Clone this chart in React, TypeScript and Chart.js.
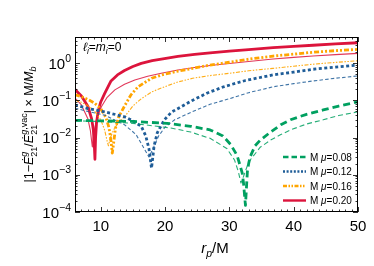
import React, { useEffect, useRef } from "react";
import { Chart, registerables } from "chart.js";

Chart.register(...registerables);

const FONT = '"Liberation Sans", Arial, sans-serif';

// ---- axis ranges / ticks ----
const X_MIN = 6;
const X_MAX = 50;
const Y_MIN = 1e-4;
const Y_MAX = 5;
const X_TICKS = [10, 20, 30, 40, 50];
const Y_TICK_EXPONENTS = [-4, -3, -2, -1, 0];
const MU_LABELS = ["0.08", "0.12", "0.16", "0.20"];

// ---- μ = 0.20 (red, solid) ----
const rRedThick = [6, 7, 8, 8.6, 8.85, 9.0, 9.1, 9.2, 9.35, 9.6, 10, 10.6, 11.6, 12.6, 13.7, 15, 16.3, 18, 19.9, 22, 24.6, 27, 30, 33, 36.8, 40, 43, 46.5, 50];
const redThick = [0.195, 0.13, 0.069, 0.031, 0.016, 0.0065, 0.0026, 0.01, 0.025, 0.05, 0.09, 0.15, 0.33, 0.48, 0.63, 0.81, 0.98, 1.16, 1.32, 1.5, 1.7, 1.88, 2.08, 2.3, 2.58, 2.8, 3.0, 3.25, 3.5];
const rRedThin = [6, 7, 8, 8.4, 8.55, 8.7, 8.85, 9.0, 9.4, 10.1, 11, 12.2, 13.7, 15.3, 17.3, 19.4, 22, 24.3, 27, 30, 33, 36.8, 40, 43, 46.5, 50];
const redThin = [0.115, 0.075, 0.032, 0.015, 0.009, 0.0056, 0.01, 0.015, 0.034, 0.067, 0.12, 0.19, 0.27, 0.35, 0.44, 0.53, 0.65, 0.75, 0.86, 0.97, 1.1, 1.28, 1.42, 1.55, 1.68, 1.82];

// ---- μ = 0.16 (orange, dash-dot-dot) ----
const rOrangeThick = [6, 7, 8, 9, 10, 10.8, 11.3, 11.6, 11.8, 12.0, 12.3, 12.8, 13.7, 14.7, 15.8, 17.9, 19.7, 21.5, 24.3, 27, 30, 33, 36.8, 40, 43, 46.5, 50];
const orangeThick = [0.14, 0.125, 0.105, 0.085, 0.06, 0.035, 0.018, 0.008, 0.0038, 0.007, 0.018, 0.036, 0.07, 0.14, 0.23, 0.39, 0.49, 0.58, 0.72, 0.88, 1.05, 1.27, 1.54, 1.73, 1.95, 2.15, 2.33];
const rOrangeThin = [6, 7, 8, 9, 10, 10.6, 11.0, 11.2, 11.5, 12, 12.8, 13.7, 15, 16.3, 18, 19.9, 22, 24.3, 27, 30, 33, 36.8, 40, 43, 46.5, 50];
const orangeThin = [0.1, 0.088, 0.072, 0.052, 0.03, 0.016, 0.008, 0.006, 0.01, 0.016, 0.026, 0.036, 0.07, 0.11, 0.17, 0.23, 0.31, 0.39, 0.46, 0.53, 0.62, 0.72, 0.82, 0.93, 1.04, 1.15];

// ---- μ = 0.12 (blue, dotted) ----
const rBlueThick = [6, 8, 10.6, 13.7, 15, 16.3, 17, 17.5, 17.9, 18.3, 18.8, 19.9, 21, 22.5, 24.3, 26.5, 29.1, 32.5, 36.8, 40, 43, 46.5, 50];
const blueThick = [0.075, 0.06, 0.049, 0.036, 0.028, 0.02, 0.011, 0.005, 0.0015, 0.006, 0.0135, 0.03, 0.048, 0.067, 0.1, 0.155, 0.23, 0.34, 0.48, 0.57, 0.68, 0.78, 0.88];
const rBlueThin = [6, 8, 10.6, 13.7, 15.5, 16.5, 17.5, 18, 19, 20, 21.5, 24.3, 27, 30, 33, 36.8, 40, 43, 46.5, 50];
const blueThin = [0.062, 0.05, 0.04, 0.022, 0.012, 0.006, 0.003, 0.0045, 0.011, 0.019, 0.03, 0.05, 0.078, 0.11, 0.16, 0.23, 0.28, 0.33, 0.39, 0.45];

// ---- μ = 0.08 (green, dashed) ----
const rGreenThick = [6, 10, 15, 20.3, 24, 27, 29, 30.2, 31.2, 31.7, 32.0, 32.2, 32.5, 32.8, 33, 33.25, 34, 34.8, 36.4, 38, 39.5, 42, 44.6, 47, 50];
const greenThick = [0.029, 0.028, 0.027, 0.024, 0.02, 0.016, 0.011, 0.0065, 0.0033, 0.0017, 0.0011, 0.0006, 0.00015, 0.0012, 0.002, 0.0031, 0.006, 0.0085, 0.014, 0.022, 0.03, 0.042, 0.055, 0.07, 0.091];
const rGreenThin = [6, 10, 15, 20.9, 24, 27, 29.6, 30.8, 31.4, 31.8, 32.2, 33, 34.8, 36.4, 38, 39.5, 42, 44.6, 47, 50];
const greenThin = [0.028, 0.027, 0.024, 0.018, 0.014, 0.0095, 0.0051, 0.0025, 0.0012, 0.0006, 0.0009, 0.0022, 0.0055, 0.0085, 0.012, 0.016, 0.023, 0.03, 0.039, 0.049];

type Pt = { x: number; y: number };
const toXY = (rs: number[], vs: number[]): Pt[] => rs.map((r, i) => ({ x: r, y: vs[i] }));

const SERIES = [
  { mu: MU_LABELS[0], color: "#00a060", thin: "rgba(0,160,96,0.85)", thickR: rGreenThick, thickV: greenThick, thinR: rGreenThin, thinV: greenThin, thickDash: [7, 4], thinDash: [5, 3], legendDash: [5.5, 3] },
  { mu: MU_LABELS[1], color: "#1f5d98", thin: "rgba(31,93,152,0.85)", thickR: rBlueThick, thickV: blueThick, thinR: rBlueThin, thinV: blueThin, thickDash: [3, 2.5], thinDash: [3.5, 2.2], legendDash: [2, 1.6] },
  { mu: MU_LABELS[2], color: "#ffa500", thin: "rgba(255,165,0,0.9)", thickR: rOrangeThick, thickV: orangeThick, thinR: rOrangeThin, thinV: orangeThin, thickDash: [5, 2, 2, 2, 2, 2], thinDash: [4, 1.5, 1.5, 1.5, 1.5, 1.5], legendDash: [4, 1.5, 1.5, 1.5, 1.5, 1.5] },
  { mu: MU_LABELS[3], color: "#dc143c", thin: "rgba(220,20,60,0.85)", thickR: rRedThick, thickV: redThick, thinR: rRedThin, thinV: redThin, thickDash: [] as number[], thinDash: [] as number[], legendDash: [] as number[] },
];

type Part = { t: string; size: number; italic?: boolean; dy?: number };
type Stack = { sup: Part[]; sub: Part[]; supDy: number; subDy: number };
type Item = Part | Stack;

function font(p: Part) {
  return `${p.italic ? "italic " : ""}${p.size}px ${FONT}`;
}
function partsWidth(ctx: CanvasRenderingContext2D, parts: Part[]) {
  let w = 0;
  for (const p of parts) {
    ctx.font = font(p);
    w += ctx.measureText(p.t).width;
  }
  return w;
}
function itemWidth(ctx: CanvasRenderingContext2D, it: Item) {
  if ("sup" in it) return Math.max(partsWidth(ctx, it.sup), partsWidth(ctx, it.sub));
  ctx.font = font(it);
  return ctx.measureText(it.t).width;
}
function drawParts(ctx: CanvasRenderingContext2D, parts: Part[], x: number, y: number) {
  let cx = x;
  for (const p of parts) {
    ctx.font = font(p);
    ctx.fillText(p.t, cx, y + (p.dy || 0));
    cx += ctx.measureText(p.t).width;
  }
  return cx;
}
function drawRich(ctx: CanvasRenderingContext2D, items: Item[], x: number, y: number, align: "left" | "center" | "right") {
  const total = items.reduce((s, it) => s + itemWidth(ctx, it), 0);
  let cx = align === "left" ? x : align === "center" ? x - total / 2 : x - total;
  ctx.textAlign = "left";
  ctx.textBaseline = "alphabetic";
  for (const it of items) {
    const w = itemWidth(ctx, it);
    if ("sup" in it) {
      drawParts(ctx, it.sup, cx, y + it.supDy);
      drawParts(ctx, it.sub, cx, y + it.subDy);
    } else {
      drawParts(ctx, [it], cx, y);
    }
    cx += w;
  }
}

const decorPlugin = {
  id: "decor",
  afterDatasetsDraw(chart: any) {
    const ctx: CanvasRenderingContext2D = chart.ctx;
    const { left, right, top, bottom } = chart.chartArea;
    const xs = chart.scales.x;
    const ys = chart.scales.y;
    ctx.save();
    ctx.fillStyle = "#000";
    ctx.strokeStyle = "#000";
    ctx.setLineDash([]);

    // frame
    ctx.lineWidth = 1;
    ctx.strokeRect(left + 0.5, top + 0.5, right - left - 1, bottom - top - 1);

    // x ticks (inward, bottom and top)
    ctx.lineWidth = 0.8;
    ctx.beginPath();
    for (let r = Math.ceil(X_MIN); r <= X_MAX; r++) {
      const px = Math.round(xs.getPixelForValue(r)) + 0.5;
      const len = X_TICKS.includes(r) ? 5 : 2.5;
      ctx.moveTo(px, bottom);
      ctx.lineTo(px, bottom - len);
      ctx.moveTo(px, top);
      ctx.lineTo(px, top + len);
    }
    // y ticks (inward, left and right)
    for (const e of Y_TICK_EXPONENTS) {
      for (let k = 1; k <= 9; k++) {
        const v = k * Math.pow(10, e);
        if (v < Y_MIN || v > Y_MAX) continue;
        const py = Math.round(ys.getPixelForValue(v)) + 0.5;
        const len = k === 1 ? 5 : 2.5;
        ctx.moveTo(left, py);
        ctx.lineTo(left + len, py);
        ctx.moveTo(right, py);
        ctx.lineTo(right - len, py);
      }
    }
    ctx.stroke();

    // x tick labels
    ctx.font = `15px ${FONT}`;
    ctx.textAlign = "center";
    ctx.textBaseline = "alphabetic";
    for (const t of X_TICKS) {
      ctx.fillText(String(t), xs.getPixelForValue(t), 231);
    }

    // y tick labels
    for (const e of Y_TICK_EXPONENTS) {
      const py = ys.getPixelForValue(Math.pow(10, e));
      const expStr = e < 0 ? "\u2212" + String(-e) : String(e);
      drawRich(
        ctx,
        [
          { t: "10", size: 15 },
          { t: expStr, size: 10.5, dy: -7 },
        ],
        71,
        py + 5.5,
        "right"
      );
    }

    // x axis title
    drawRich(
      ctx,
      [
        { t: "r", size: 15, italic: true },
        { t: "p", size: 10.5, italic: true, dy: 3.5 },
        { t: "/M", size: 15 },
      ],
      215,
      253,
      "center"
    );

    // y axis title (rotated)
    ctx.save();
    ctx.translate(33, (top + bottom) / 2);
    ctx.rotate(-Math.PI / 2);
    drawRich(
      ctx,
      [
        { t: "|1\u2212", size: 12.5 },
        { t: "\u0116", size: 12.5, italic: true },
        { sup: [{ t: "g", size: 9, italic: true }], sub: [{ t: "21", size: 9 }], supDy: -6.5, subDy: 3.5 },
        { t: "/", size: 12.5 },
        { t: "\u0116", size: 12.5, italic: true },
        { sup: [{ t: "g", size: 9, italic: true }, { t: ",vac", size: 9 }], sub: [{ t: "21", size: 9 }], supDy: -6.5, subDy: 3.5 },
        { t: "| \u00d7 M/", size: 12.5 },
        { t: "M", size: 12.5, italic: true },
        { t: "b", size: 9, italic: true, dy: 3 },
      ],
      0,
      0,
      "center"
    );
    ctx.restore();

    // annotation
    drawRich(
      ctx,
      [
        { t: "\u2113", size: 12, italic: true },
        { t: "i", size: 8.5, italic: true, dy: 2.5 },
        { t: "=", size: 12 },
        { t: "m", size: 12, italic: true },
        { t: "i", size: 8.5, italic: true, dy: 2.5 },
        { t: "=0", size: 12 },
      ],
      83,
      51,
      "left"
    );

    // legend
    const rowY = [157, 171.5, 186, 200.5];
    SERIES.forEach((s, i) => {
      const y = rowY[i];
      ctx.beginPath();
      ctx.strokeStyle = s.color;
      ctx.lineWidth = 2.4;
      ctx.setLineDash(s.legendDash);
      ctx.moveTo(283, y);
      ctx.lineTo(306, y);
      ctx.stroke();
      ctx.setLineDash([]);
      ctx.fillStyle = "#000";
      drawRich(
        ctx,
        [
          { t: "M ", size: 10 },
          { t: "\u03bc", size: 10, italic: true },
          { t: "=" + s.mu, size: 10 },
        ],
        310,
        y + 3.5,
        "left"
      );
    });

    ctx.restore();
  },
};

export default function App() {
  const ref = useRef<HTMLCanvasElement | null>(null);
  useEffect(() => {
    if (!ref.current) return;
    const datasets: any[] = [];
    SERIES.forEach((s) => {
      datasets.push({
        label: "M μ=" + s.mu,
        data: toXY(s.thickR, s.thickV),
        borderColor: s.color,
        borderWidth: 2.8,
        borderDash: s.thickDash,
        borderJoinStyle: "round",
        pointRadius: 0,
        tension: 0,
        fill: false,
      });
      datasets.push({
        label: "M μ=" + s.mu + " (thin)",
        data: toXY(s.thinR, s.thinV),
        borderColor: s.thin,
        borderWidth: 1.1,
        borderDash: s.thinDash,
        borderJoinStyle: "round",
        pointRadius: 0,
        tension: 0,
        fill: false,
      });
    });
    const chart = new Chart(ref.current, {
      type: "line",
      data: { datasets },
      options: {
        animation: false,
        responsive: false,
        maintainAspectRatio: false,
        devicePixelRatio: 1,
        layout: { padding: { left: 75, right: 16, top: 37, bottom: 54 } },
        plugins: { legend: { display: false }, tooltip: { enabled: false } },
        scales: {
          x: { type: "linear", min: X_MIN, max: X_MAX, display: false },
          y: { type: "logarithmic", min: Y_MIN, max: Y_MAX, display: false },
        },
      },
      plugins: [decorPlugin],
    } as any);
    return () => chart.destroy();
  }, []);
  return (
    <div style={{ position: "fixed", left: 0, top: 0, width: 374, height: 266, background: "#fff" }}>
      <canvas ref={ref} width={374} height={266} />
    </div>
  );
}
